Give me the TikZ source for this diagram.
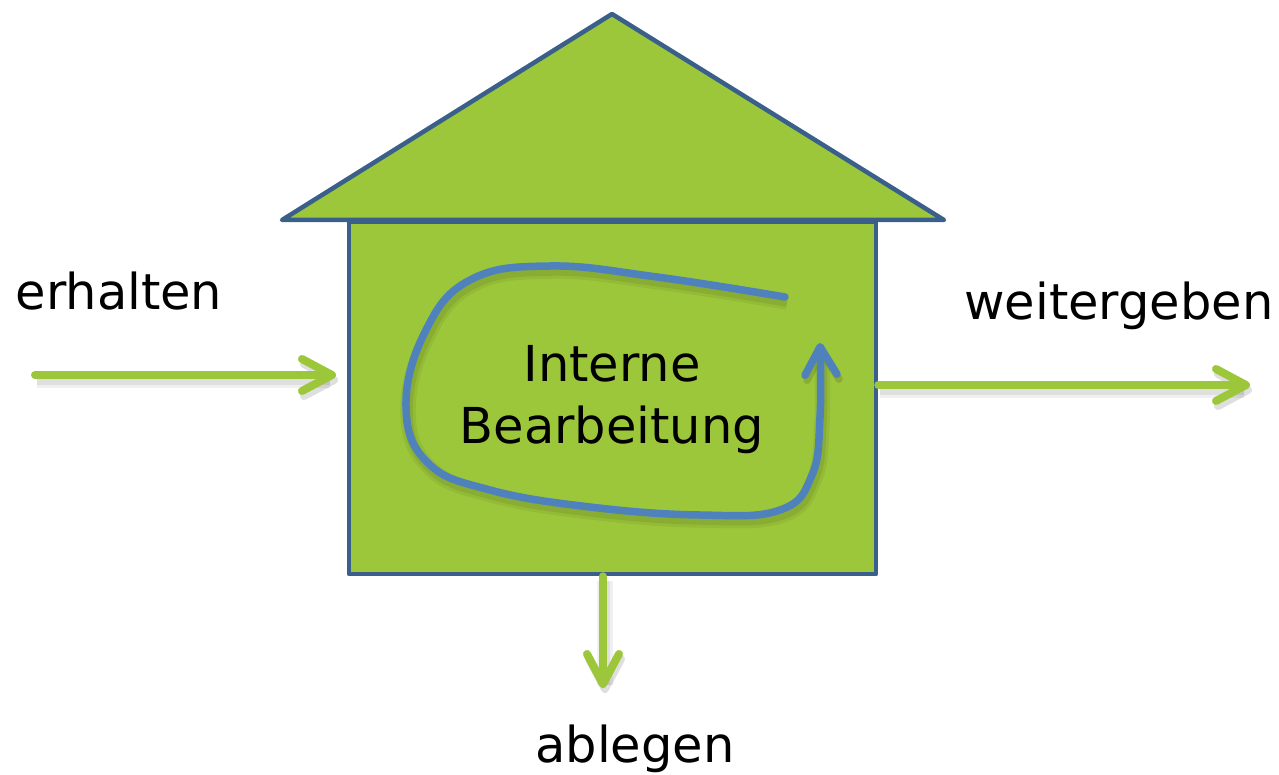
\documentclass[tikz,border=0pt]{standalone}
\usepackage{fontspec}
\setmainfont{DejaVu Sans}
\usetikzlibrary{arrows.meta}
\definecolor{hgreen}{HTML}{9DC73A}
\definecolor{hblue}{HTML}{3A5F8B}
\definecolor{cblue}{HTML}{4F81BD}
\tikzset{
  label/.style={font=\fontsize{49.5}{62}\selectfont, text=black, inner sep=0pt, anchor=base},
  softshadow/.style={
    preaction={draw=black, opacity=0.06, line width=#1+8pt, transform canvas={shift={(2pt,-5pt)}}},
    preaction={draw=black, opacity=0.07, line width=#1+2pt, transform canvas={shift={(2pt,-5pt)}}}},
  flow/.style={draw=hgreen, line width=8pt, line cap=round,
    -{Straight Barb[length=30pt, width=32pt, round, line width=8pt]},
    softshadow=8pt},
  house/.style={fill=hgreen, draw=hblue, line width=4.5pt, line join=round},
}
\begin{document}
\begin{tikzpicture}[x=1pt, y=-1pt]
\useasboundingbox (0,0) rectangle (1279,775);
% roof
\draw[house] (612,14) -- (944,220) -- (282,220) -- cycle;
% body
\node[house, rectangle, minimum width=527pt, minimum height=352pt, inner sep=0pt] (body) at (612.5,398) {};
% internal loop
\draw[draw=cblue, line width=7.5pt, line cap=round,
      -{Straight Barb[length=28pt, width=32pt, round, line width=7.5pt]},
      softshadow=7.5pt]
  plot[smooth, tension=0.7] coordinates {(785,297) (657,277) (550,266) (470,280) (425,332) (406,407) (428,463) (490,490) (590,507) (700,515) (780,510) (812,475) (820,417) (820,343)};
% texts
\node[label, align=center] (inner) at (612,443) {Interne\\Bearbeitung};
\node[label] (erh) at (119,310) {erhalten};
\node[label] (weit) at (1119,320) {weitergeben};
\node[label] (abl) at (635,762) {ablegen};
% connectors
\coordinate (inS) at (35,375);
\coordinate (inE) at (336,375);
\coordinate (outS) at (878,385);
\coordinate (outE) at (1250,385);
\coordinate (downS) at (603,576);
\coordinate (downE) at (603,688);
\draw[flow] (inS) -- (inE);
\draw[flow] (body.east |- outS) -- (outE);
\draw[flow] (body.south -| downS) -- (downE);
\end{tikzpicture}
\end{document}
